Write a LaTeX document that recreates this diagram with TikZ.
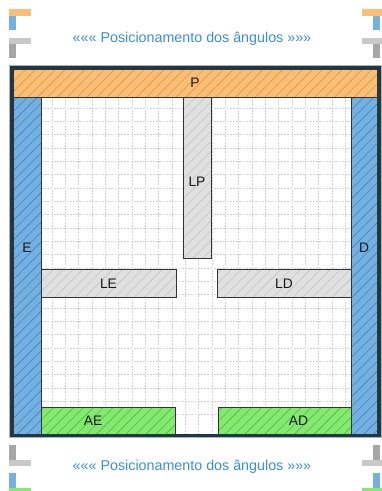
\documentclass[tikz,border=0pt]{standalone}
\usepackage{fontspec}
\setmainfont{Liberation Sans}
\usetikzlibrary{patterns.meta}

\definecolor{laranja}{HTML}{F9BE78}
\definecolor{laranjaEsc}{HTML}{EE942C}
\definecolor{azul}{HTML}{74B1E0}
\definecolor{azulEsc}{HTML}{3A84C8}
\definecolor{cinza}{HTML}{E0E0E0}
\definecolor{cinzaEsc}{HTML}{C4C4C4}
\definecolor{verde}{HTML}{86E872}
\definecolor{verdeEsc}{HTML}{3CC62C}
\definecolor{moldura}{HTML}{1F3845}
\definecolor{titulo}{HTML}{3A8DDA}
\definecolor{marcaCinza}{HTML}{C8C8C8}
\definecolor{marcaEsc}{HTML}{A6A6A6}

\begin{document}
\begin{tikzpicture}[
    x=1pt, y=-1pt,
    font=\fontsize{13.8}{15}\selectfont,
    bloco/.style    = {draw=black!80, line width=0.9pt, inner sep=0pt, text=black!90},
    hachura/.style  = {preaction={fill=#1},
                       pattern={Lines[angle=45, distance=7pt, line width=0.6pt]}},
    blocoP/.style   = {bloco, hachura=laranja, pattern color=laranjaEsc},
    blocoLat/.style = {bloco, hachura=azul, pattern color=azulEsc},
    blocoL/.style   = {bloco, hachura=cinza, pattern color=cinzaEsc},
    blocoA/.style   = {bloco, hachura=verde, pattern color=verdeEsc},
    lbl/.style      = {text=black!90, inner sep=0pt},
    tit/.style      = {text=titulo, font=\fontsize{14.3}{15}\selectfont},
    grade/.style    = {draw=black!18, line width=0.8pt, dash pattern=on 1.8pt off 1.4pt},
]
\useasboundingbox (0,0) rectangle (382,491);

% ---------------- corner marks ----------------
\fill[laranja]    (9,9) rectangle (31,16);
\fill[azul]       (9,16) rectangle (16,30);
\fill[marcaCinza] (9,38) rectangle (31,44);
\fill[marcaEsc]   (9,44) rectangle (16,58);
\fill[laranja]    (362,9) rectangle (384,16);
\fill[azul]       (373,16) rectangle (380,30);
\fill[marcaCinza] (362,38) rectangle (384,44);
\fill[marcaEsc]   (373,44) rectangle (380,58);

\fill[marcaEsc]   (9,445) rectangle (16,460);
\fill[marcaCinza] (9,460) rectangle (31,466);
\fill[azul]       (9,473) rectangle (16,488);
\fill[verde]      (9,488) rectangle (31,494);
\fill[marcaEsc]   (373,445) rectangle (380,460);
\fill[marcaCinza] (362,460) rectangle (384,466);
\fill[azul]       (373,473) rectangle (380,488);
\fill[verde]      (362,488) rectangle (384,494);

% ---------------- titles ----------------
\node[tit] (titcima)  at (192,39)  {««« Posicionamento dos ângulos »»»};
\node[tit] (titbaixo) at (192,467) {««« Posicionamento dos ângulos »»»};

% ---------------- grid ----------------
\begin{scope}
    \clip (41,97) rectangle (351,435);
    \foreach \k in {3,...,26} {
        \draw[grade] (12+\k*13.333,97) -- (12+\k*13.333,435);
        \draw[grade] (41,68+\k*13.333) -- (351,68+\k*13.333);
    }
\end{scope}

% ---------------- blocks ----------------
\node[blocoP, minimum width=364pt, minimum height=28pt] (P) at (195,83) {P};
\node[blocoLat, minimum width=28pt, minimum height=337pt,
      label={[lbl, yshift=18pt]center:E}] (E) at (27,265.5) {};
\node[blocoLat, minimum width=26pt, minimum height=337pt,
      label={[lbl, yshift=18pt]center:D}] (D) at (364,265.5) {};
\node[blocoL, minimum width=28pt, minimum height=161pt,
      label={[lbl, yshift=-4pt]center:LP}] (LP) at (197,177.5) {};
\node[blocoL, minimum width=135pt, minimum height=28pt] (LE) at (108.5,283.5) {LE};
\node[blocoL, minimum width=134pt, minimum height=28pt] (LD) at (284,283.5) {LD};
\node[blocoA, minimum width=134pt, minimum height=28pt,
      label={[lbl, xshift=-15pt]center:AE}] (AE) at (108,421) {};
\node[blocoA, minimum width=133pt, minimum height=28pt,
      label={[lbl, xshift=14pt]center:AD}] (AD) at (284.5,421) {};

% ---------------- frame ----------------
\draw[black!30, line width=0.8pt] (9.5,65.5) rectangle (381.5,437.5);
\draw[moldura, line width=3pt] (11.5,67.5) rectangle (379,435.5);

\end{tikzpicture}
\end{document}
